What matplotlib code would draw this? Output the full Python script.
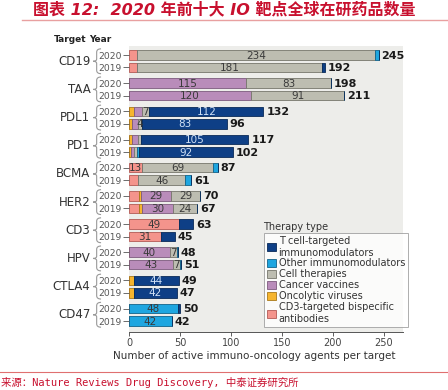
import numpy as np
import matplotlib.pyplot as plt
from matplotlib.path import Path
from matplotlib.patches import PathPatch, Patch
from matplotlib.transforms import blended_transform_factory

# Data: rows are target/year pairs, 2020 first then 2019
targets = ['CD19', 'TAA', 'PDL1', 'PD1', 'BCMA', 'HER2', 'CD3', 'HPV', 'CTLA4', 'CD47']
years = ['2020', '2019']

cd3_bispecific = [8, 8, 0, 0, 0, 0, 0, 0, 13, 9, 10, 10, 49, 31, 0, 0, 0, 0, 0, 0]
oncolytic = [0, 0, 0, 0, 5, 3, 3, 2, 0, 0, 2, 3, 0, 0, 0, 0, 5, 5, 0, 0]
vaccines = [0, 0, 115, 120, 8, 6, 6, 3, 0, 0, 29, 30, 0, 0, 40, 43, 0, 0, 0, 0]
cell_therapies = [234, 181, 83, 91, 7, 4, 3, 3, 69, 46, 29, 24, 0, 0, 7, 7, 0, 0, 0, 0]
other_immuno = [3, 0, 0, 0, 0, 0, 0, 2, 5, 6, 0, 0, 0, 0, 1, 1, 0, 0, 48, 42]
tcell_immuno = [0, 3, 0, 0, 112, 83, 105, 92, 0, 0, 0, 0, 14, 14, 0, 0, 44, 42, 2, 0]

# which segments carry a number inside the bar
labelled = {
    'cd3': [8, 12, 13],
    'vac': [2, 3, 10, 11, 14, 15],
    'cell': [0, 1, 2, 3, 4, 5, 8, 9, 10, 11, 14, 15],
    'other': [18, 19],
    'tcell': [4, 5, 6, 7, 16, 17],
}

series = [
    ('cd3', cd3_bispecific, '#f4948c', '#b35a55', 'CD3-targeted bispecific\nantibodies'),
    ('onc', oncolytic, '#f6b52e', '#a8791a', 'Oncolytic viruses'),
    ('vac', vaccines, '#b98cba', '#7d5a7e', 'Cancer vaccines'),
    ('cell', cell_therapies, '#bdbdb1', '#76766c', 'Cell therapies'),
    ('other', other_immuno, '#1ea6e0', '#12638a', 'Other immunomodulators'),
    ('tcell', tcell_immuno, '#0e3f86', '#0a2a58', 'T cell-targeted\nimmunomodulators'),
]

plt.rcParams['font.family'] = ['DejaVu Sans', 'Noto Sans CJK SC']

fig = plt.figure(figsize=(4.48, 3.9), dpi=100)
ax = fig.add_axes([129 / 448, 1 - 332 / 390, 274 / 448, 286 / 390])
ax.set_facecolor('#ededea')

pitch_in = 0.443
ypos = []
for g in range(len(targets)):
    ypos += [g, g + pitch_in]
ypos = np.array(ypos)

left = np.zeros(len(ypos))
for key, vals, col, edge, lab in series:
    vals = np.array(vals, dtype=float)
    ax.barh(ypos, vals, left=left, height=0.34, color=col, edgecolor=edge, linewidth=0.6)
    for i in labelled.get(key, []):
        tc = '#cfe0f5' if key == 'tcell' else '#3a3a3a'
        ax.text(left[i] + vals[i] / 2, ypos[i] + 0.02, str(int(vals[i])), ha='center', va='center',
                fontsize=7.5, color=tc)
    left += vals

for i, tot in enumerate(left):
    ax.text(tot + 3, ypos[i] + 0.02, str(int(tot)), ha='left', va='center', fontsize=8,
            fontweight='bold', color='#1a1a1a')

ax.set_xlim(0, 269)
ax.set_ylim(9.443 + 0.39, -0.32)
ax.set_xticks([0, 50, 100, 150, 200, 250])
ax.tick_params(axis='x', labelsize=7, colors='#444444', length=3, width=0.6, pad=1.5)
ax.set_yticks(ypos)
ax.set_yticklabels(years * len(targets), fontsize=6.6, color='#333333')
ax.tick_params(axis='y', length=4, width=0.6, pad=1.5, colors='#555555')
for s in ['top', 'right', 'left']:
    ax.spines[s].set_visible(False)
ax.spines['bottom'].set_color('#555555')
ax.spines['bottom'].set_linewidth(0.7)

# target names and braces
tr = blended_transform_factory(ax.transAxes, ax.transData)
xl, xm, xr = -0.131, -0.118, -0.102
for g, name in enumerate(targets):
    yt, yb = g - 0.22, g + pitch_in + 0.22
    ymid = (yt + yb) / 2
    verts = [(xr, yt), (xm, yt), (xm, yt + 0.12),
             (xm, ymid - 0.08), (xm, ymid), (xl, ymid),
             (xm, ymid), (xm, ymid + 0.08),
             (xm, yb - 0.12), (xm, yb), (xr, yb)]
    codes = [Path.MOVETO, Path.CURVE3, Path.CURVE3,
             Path.LINETO, Path.CURVE3, Path.CURVE3,
             Path.CURVE3, Path.CURVE3,
             Path.LINETO, Path.CURVE3, Path.CURVE3]
    ax.add_patch(PathPatch(Path(verts, codes), transform=tr, fill=False,
                           edgecolor='#999999', linewidth=0.8, clip_on=False))
    ax.text(-0.141, ymid, name, transform=tr, ha='right', va='center', fontsize=8.5, color='#333333')

fig.text(86 / 448, 1 - 39 / 390, 'Target', fontsize=6.5, fontweight='bold', ha='right', va='center',
         color='#222222')
fig.text(89 / 448, 1 - 39 / 390, 'Year', fontsize=6.5, fontweight='bold', va='center', color='#222222')

# legend
handles = [Patch(facecolor=c, edgecolor=e, linewidth=0.6, label=l) for _, _, c, e, l in series[::-1]]
leg = ax.legend(handles=handles, loc='upper left', bbox_to_anchor=(264 / 448, 1 - 233 / 390),
                bbox_transform=fig.transFigure, fontsize=7, frameon=True, fancybox=False,
                handlelength=0.9, handleheight=0.9, handletextpad=0.3, labelspacing=0.1,
                borderpad=0.3, borderaxespad=0)
leg.get_frame().set_edgecolor('#999999')
leg.get_frame().set_linewidth(0.7)
for t in leg.get_texts():
    t.set_color('#333333')
fig.text(263 / 448, 1 - 227 / 390, 'Therapy type', fontsize=7, color='#333333', va='center')

fig.text(254 / 448, 1 - 356 / 390, 'Number of active immuno-oncology agents per target',
         fontsize=7.5, color='#333333', ha='center', va='center')

# title and source
fig.text(33 / 448, 1 - 10 / 390, '图表 12:  2020 年前十大 IO 靶点全球在研药品数量',
         fontsize=11.5, fontweight='bold', fontstyle='italic', color='#c8102e', va='center',
         family=['DejaVu Sans', 'Noto Sans CJK SC'])
fig.add_artist(plt.Line2D([22 / 448, 1], [1 - 19.5 / 390] * 2, color='#e8a0a0', linewidth=1))
fig.add_artist(plt.Line2D([0, 1], [1 - 372 / 390] * 2, color='#e07070', linewidth=0.8))
fig.text(1 / 448, 1 - 383 / 390, '来源：Nature Reviews Drug Discovery, 中泰证券研究所',
         fontsize=7.5, color='#c8102e', va='center', family=['DejaVu Sans Mono', 'Noto Sans CJK SC'])

fig.savefig('out.png', dpi=100)
